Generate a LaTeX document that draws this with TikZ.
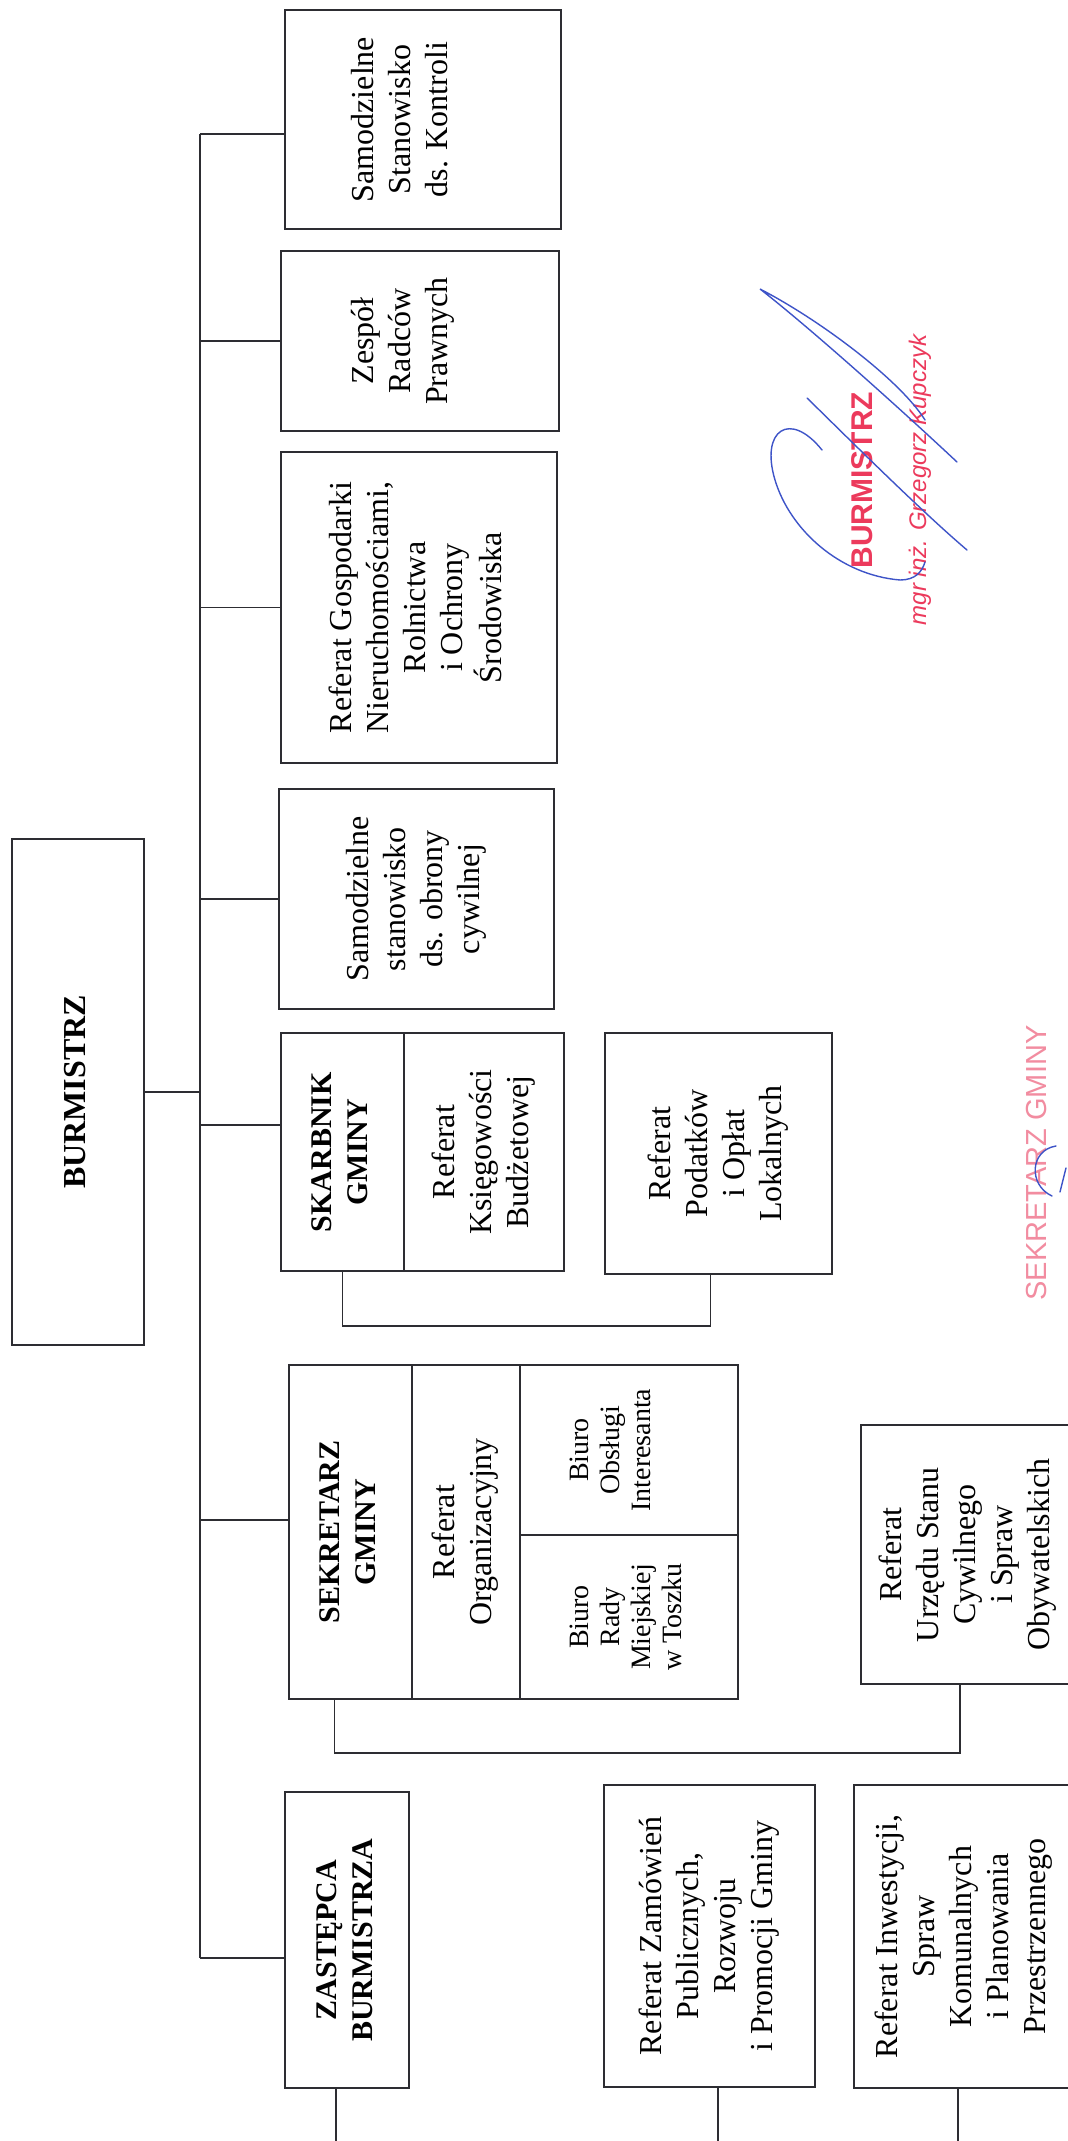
\documentclass[tikz,border=0pt]{standalone}
\usepackage{fontspec}
\setmainfont{Liberation Serif}
\setsansfont{Liberation Sans}
\usepackage{graphicx}
\usetikzlibrary{positioning}

\definecolor{frame}{RGB}{45,45,50}
\definecolor{stampred}{RGB}{236,58,92}
\definecolor{stamppink}{RGB}{242,140,160}
\definecolor{inkblue}{RGB}{62,84,200}

\newcommand{\vtxt}[2][0pt]{\rotatebox{90}{\begin{tabular}{@{}c@{}}#2\end{tabular}}\kern#1}

\tikzset{
  unit/.style={draw=frame, line width=0.8pt, inner sep=0pt, outer sep=0pt,
    font=\fontsize{16}{18.5}\selectfont},
  unitsmall/.style={unit, font=\fontsize{14}{15.5}\selectfont},
  head/.style={unit, font=\fontsize{15}{18}\selectfont\bfseries},
  boxsize/.style 2 args={minimum width=#1, minimum height=#2},
  link/.style={draw=frame, line width=0.8pt},
  sig/.style={draw=inkblue, line width=0.7pt, line cap=round},
}

\begin{document}
\begin{tikzpicture}[x=0.5pt,y=-0.5pt]
  \useasboundingbox (0,0) rectangle (1068,2141);
  \fill[white] (0,0) rectangle (1068,2141);
  \clip (0,0) rectangle (1068,2141);

  \node[unit, boxsize={66pt}{253pt}, font=\fontsize{16}{19}\selectfont\bfseries] (burmistrz) at (78,1092) {\vtxt{BURMISTRZ}};

  \node[unit, boxsize={138pt}{109.5pt}]   (kontrola)   at (423,119.5)   {\vtxt[20pt]{Samodzielne\\Stanowisko\\ds. Kontroli}};
  \node[unit, boxsize={139pt}{90pt}]      (radcy)      at (420,341)     {\vtxt[17pt]{Zespół\\Radców\\Prawnych}};
  \node[unit, boxsize={138pt}{155.5pt}]   (gospodarka) at (419,607.5)   {\vtxt{Referat Gospodarki\\Nieruchomościami,\\Rolnictwa\\i Ochrony\\Środowiska}};
  \node[unit, boxsize={137.5pt}{110pt}]   (obrona)     at (416.5,899)   {\vtxt{Samodzielne\\stanowisko\\ds. obrony\\cywilnej}};

  \node[head, boxsize={61.5pt}{119pt}]    (skarbnik)   at (342.5,1152)  {\vtxt{SKARBNIK\\GMINY}};
  \node[unit, boxsize={80pt}{119pt}]      (ksiegowosc) [right=0pt of skarbnik] {\vtxt{Referat\\Księgowości\\Budżetowej}};
  \node[unit, boxsize={113.5pt}{120.5pt}] (podatki)    at (718.5,1153.5) {\vtxt{Referat\\Podatków\\i Opłat\\Lokalnych}};

  \node[head, boxsize={61.5pt}{167pt}]    (sekretarz)  at (350.5,1532)  {\vtxt{SEKRETARZ\\GMINY}};
  \node[unit, boxsize={54pt}{167pt}]      (organizacja) [right=0pt of sekretarz] {\vtxt{Referat\\Organizacyjny}};
  \node[unitsmall, boxsize={109pt}{85pt}] (obsluga)    [right=0pt of organizacja.north east, anchor=north west] {\vtxt[16pt]{Biuro\\Obsługi\\Interesanta}};
  \node[unitsmall, boxsize={109pt}{82pt}] (rada)       [below=0pt of obsluga] {\vtxt{Biuro\\Rady\\Miejskiej\\w Toszku}};
  \node[unit, boxsize={107pt}{129.5pt}]   (usc)        at (968,1554.5)  {\vtxt{Referat\\Urzędu Stanu\\Cywilnego\\i Spraw\\Obywatelskich}};

  \node[head, boxsize={62pt}{148pt}]      (zastepca)   at (347,1940)    {\vtxt{ZASTĘPCA\\BURMISTRZA}};
  \node[unit, boxsize={105.5pt}{151pt}]   (zamowienia) at (709.5,1936)  {\vtxt{Referat Zamówień\\Publicznych,\\Rozwoju\\i Promocji Gminy}};
  \node[unit, boxsize={110.5pt}{151.5pt}] (inwestycje) at (964.5,1936.5) {\vtxt{Referat Inwestycji,\\Spraw\\Komunalnych\\i Planowania\\Przestrzennego}};

  % spine and branches
  \coordinate (spine) at (200,134);
  \coordinate (bKontrola)  at ([yshift=-7.25pt]kontrola.west);
  \coordinate (bSkarbnik)  at ([yshift=13.5pt]skarbnik.west);
  \coordinate (bSekretarz) at ([yshift=6pt]sekretarz.west);
  \coordinate (bZastepca)  at ([yshift=-9pt]zastepca.west);
  \draw[link] (bKontrola -| spine) -- (bZastepca -| spine);
  \foreach \b in {bKontrola, radcy.west, gospodarka.west, obrona.west, bSkarbnik, bSekretarz, bZastepca}
    \draw[link] (\b) -- (\b -| spine);
  \draw[link] (burmistrz.east) -- (burmistrz.east -| spine);

  % groups
  \coordinate (podLeg) at ([xshift=-4pt]podatki.south);
  \draw[link] (skarbnik.south) -- ++(0,55) -| (podLeg);
  \coordinate (sekLeg) at ([xshift=-8pt]sekretarz.south);
  \coordinate (uscLeg) at ([xshift=-4pt]usc.south);
  \draw[link] (sekLeg) -- ++(0,54) -| (uscLeg);

  \coordinate (pageBottom) at (0,2150);
  \coordinate (sZastepca)   at ([xshift=-5.5pt]zastepca.south);
  \coordinate (sZamowienia) at ([xshift=4.25pt]zamowienia.south);
  \coordinate (sInwestycje) at ([xshift=-3.25pt]inwestycje.south);
  \foreach \s in {sZastepca, sZamowienia, sInwestycje}
    \draw[link] (\s) -- (\s |- pageBottom);

  % stamps
  \node[rotate=90, text=stampred, font=\sffamily\bfseries\fontsize{15}{15}\selectfont] (stampBurmistrz) at (862,480) {BURMISTRZ};
  \node[rotate=90, text=stampred, font=\sffamily\itshape\fontsize{12}{12}\selectfont] (stampNazwisko) at (920,480) {mgr inż. Grzegorz Kupczyk};
  \node[rotate=90, text=stamppink, font=\sffamily\fontsize{14.5}{14.5}\selectfont] (stampSekretarz) at (1037,1163) {SEKRETARZ GMINY};

  \draw[sig] (957,462) .. controls (880,390) and (800,320) .. (760,289) .. controls (820,320) and (900,380) .. (925,420);
  \draw[sig] (807,398) .. controls (850,440) and (920,510) .. (967,550);
  \draw[sig] (822,450) .. controls (790,410) and (760,430) .. (775,480) .. controls (790,530) and (840,575) .. (900,580) .. controls (915,580) and (922,572) .. (925,562);
  \draw[sig] (1056,1146) .. controls (1030,1150) and (1028,1185) .. (1052,1196);
  \draw[sig] (1066,1168) -- (1060,1192);
\end{tikzpicture}
\end{document}
